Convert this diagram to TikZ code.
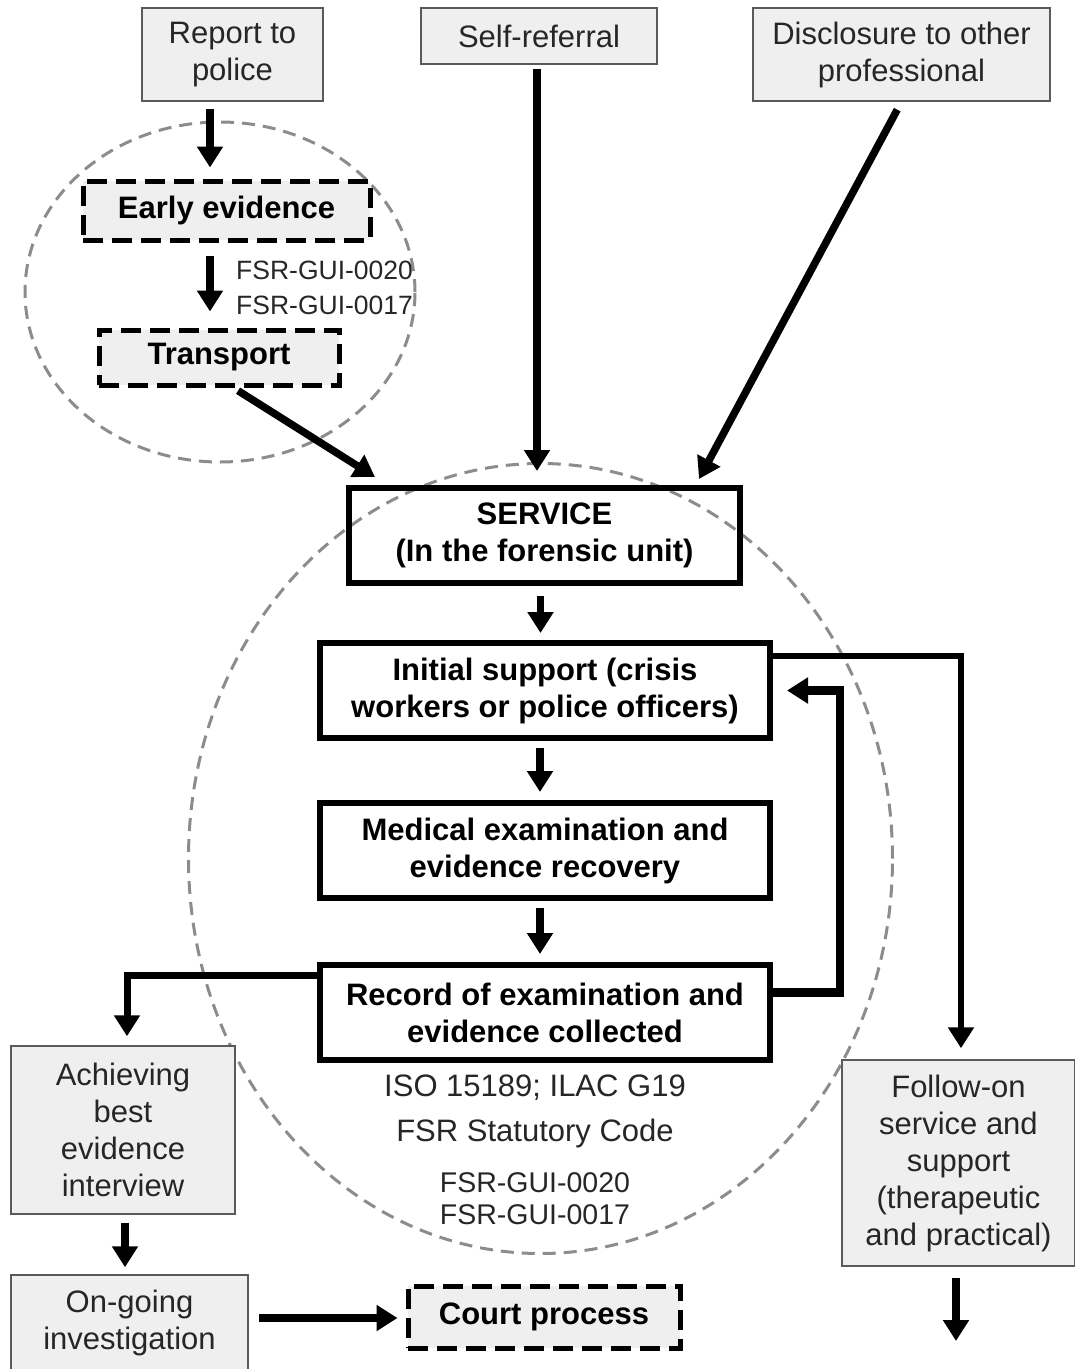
\documentclass[tikz,border=0pt]{standalone}
\usepackage{fontspec}
\setmainfont{Liberation Sans}
\usetikzlibrary{arrows.meta,calc}
\definecolor{boxgray}{HTML}{EFEFEF}
\definecolor{edgegray}{HTML}{5A5A5A}
\definecolor{ringgray}{HTML}{8C8C8C}
\definecolor{txtgray}{HTML}{262626}
\begin{document}
\begin{tikzpicture}[x=1pt,y=-1pt,
  graybox/.style={draw=edgegray, line width=1.5pt, fill=boxgray, inner sep=0pt, align=center,
    font=\fontsize{31}{37}\selectfont, text=txtgray},
  mainbox/.style={draw=black, line width=6pt, inner sep=0pt, align=center,
    font=\fontsize{31}{37}\selectfont\bfseries},
  dashbox/.style={draw=black, line width=5pt, dash pattern=on 20pt off 9pt, fill=boxgray,
    inner sep=0pt, align=center, font=\fontsize{31}{37}\selectfont\bfseries},
  ring/.style={draw=ringgray, line width=3pt, dash pattern=on 13pt off 8pt},
  arr/.style={line width=7.5pt, -{Triangle[width=25pt,length=21pt]}},
  note/.style={inner sep=0pt, text=txtgray, font=\fontsize{26.5}{35}\selectfont},
  lownote/.style={inner sep=0pt, text=txtgray, font=\fontsize{28.5}{32}\selectfont},
  bignote/.style={inner sep=0pt, text=txtgray, font=\fontsize{31}{37}\selectfont}
]
\useasboundingbox (0,0) rectangle (1075,1369);

% dashed rings
\draw[ring] (220,292) ellipse [x radius=195pt, y radius=170pt];
\draw[ring] (540.5,858.5) ellipse [x radius=352pt, y radius=395pt];

% top sources
\node[graybox, minimum width=181pt, minimum height=93pt] (report) at (232.5,54.5) {Report to\\police};
\node[graybox, minimum width=236pt, minimum height=56pt] (self) at (539,36) {Self-referral};
\node[graybox, minimum width=297pt, minimum height=93pt] (disc) at (901.5,54.5) {Disclosure to other\\professional};

% left ring content
\node[dashbox, minimum width=287pt, minimum height=59pt] (early) at (226.5,210.5) {Early evidence};
\node[dashbox, minimum width=240pt, minimum height=55pt] (transport) at (219,357.5) {Transport};
\node[note, anchor=west, align=left] (fsrA) at (236,288) {FSR-GUI-0020\\FSR-GUI-0017};

% main chain
\node[mainbox, minimum width=391pt, minimum height=95pt] (service) at (544.5,535.5) {SERVICE\\(In the forensic unit)};
\node[mainbox, minimum width=450pt, minimum height=95pt] (initial) at (545,690.5) {Initial support (crisis\\workers or police officers)};
\node[mainbox, minimum width=450pt, minimum height=95pt] (medical) at (545,850.5) {Medical examination and\\evidence recovery};
\node[mainbox, minimum width=450pt, minimum height=95pt] (record) at (545,1012.5) {Record of examination and\\evidence collected};

\node[bignote] (iso) at (535,1088) {ISO 15189; ILAC G19};
\node[bignote] (code) at (535,1133) {FSR Statutory Code};
\node[lownote, align=center] (fsrB) at (535,1199) {FSR-GUI-0020\\FSR-GUI-0017};

% bottom
\node[graybox, minimum width=224pt, minimum height=168pt] (achieve) at (123,1130) {Achieving\\best\\evidence\\interview};
\node[graybox, minimum width=237pt, minimum height=96pt] (ongoing) at (129.5,1323) {On-going\\investigation};
\node[dashbox, minimum width=272pt, minimum height=62pt] (court) at (544,1317) {Court process};
\node[graybox, minimum width=233pt, minimum height=206pt] (follow) at (958.5,1163) {Follow-on\\service and\\support\\(therapeutic\\and practical)};

\coordinate (xA) at (210,0);
\coordinate (xF) at (961,0);
\coordinate (xR) at (840,0);
\coordinate (fend) at (956,1341);

% arrows
\draw[arr, shorten <=7pt, shorten >=11pt] (xA |- report.south) -- (xA |- early.north);
\draw[arr, shorten <=13pt, shorten >=16pt] (xA |- early.south) -- (xA |- transport.north);
\draw[arr, shorten <=6pt] ([xshift=14pt]transport.south) -- ([xshift=29pt,yshift=8pt]service.north west);
\draw[arr, shorten <=4pt, shorten >=14pt] ([xshift=-2pt]self.south) -- ([xshift=-2pt]self.south |- service.north);
\draw[arr, shorten <=9pt] (disc.south) -- ([xshift=-44pt,yshift=6pt]service.north east);

\draw[arr, shorten <=10pt, shorten >=7pt] ([xshift=-4pt]service.south) -- ([xshift=-4pt]service.south |- initial.north);
\draw[arr, shorten <=7pt, shorten >=8pt] ([xshift=-5pt]initial.south) -- ([xshift=-5pt]initial.south |- medical.north);
\draw[arr, shorten <=7pt, shorten >=8pt] ([xshift=-5pt]medical.south) -- ([xshift=-5pt]medical.south |- record.north);

\draw[arr, line width=6pt, shorten >=11pt] ([yshift=35pt]initial.east) -| (xF |- follow.north);
\draw[arr, line width=8.5pt, shorten >=14pt] ([yshift=20pt]record.east) -| (xR |- initial.east) -- (initial.east);
\draw[arr, line width=7pt, shorten >=9pt] ([yshift=37pt]record.west) -| ([xshift=4pt]achieve.north);

\draw[arr, shorten <=8pt, shorten >=7pt] ([xshift=2pt]achieve.south) -- ([xshift=2pt]achieve.south |- ongoing.north);
\draw[arr, shorten <=10pt, shorten >=8pt] ([yshift=5pt]ongoing.east) -- ([yshift=5pt]ongoing.east -| court.west);
\draw[arr, shorten <=11pt] ([xshift=-2.5pt]follow.south) -- (fend);
\end{tikzpicture}
\end{document}
